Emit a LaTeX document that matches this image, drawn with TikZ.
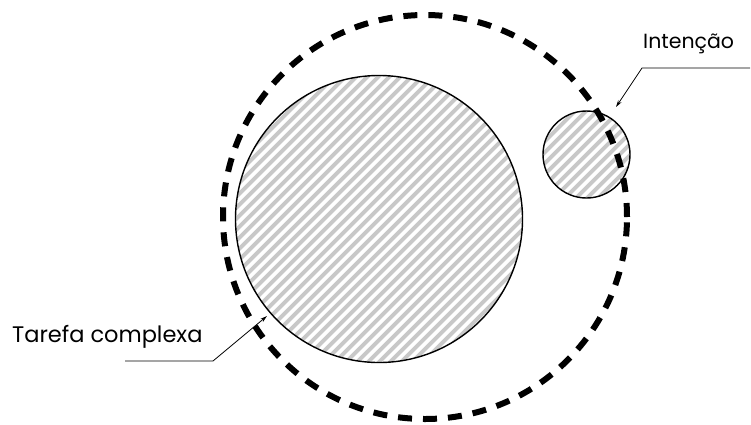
\documentclass[tikz,border=0pt]{standalone}
\usepackage{fontspec}
\setmainfont{Poppins}
\usetikzlibrary{arrows.meta}
\definecolor{hatchgray}{RGB}{200,200,200}

\begin{document}
\begin{tikzpicture}[x=1pt,y=-1pt,
    ring/.style={circle,draw,line width=1.4pt,inner sep=0pt,hatched},
    hatched/.style={path picture={
        \foreach \k in {-22,...,22}
          \draw[hatchgray,line width=3.9pt] ([xshift=\k*11pt]path picture bounding box.center) ++(-300,300) -- ++(600,-600);
      }},
    bound/.style={circle,draw,line width=6pt,dash pattern=on 14pt off 11pt,inner sep=0pt},
    lbl/.style={inner sep=0pt},
    lead/.style={line width=0.8pt,-{Stealth[length=7pt,width=4pt]}},
]
\useasboundingbox (0,0) rectangle (751,424);

% circles
\node[ring,minimum size=287pt] (task) at (379,219) {};
\node[ring,minimum size=87pt] (intent) at (586.5,154.5) {};
\node[bound,minimum size=404pt] (scope) at (425,217) {};

% labels
\node[lbl,font=\fontsize{20.5}{24}\selectfont,anchor=base west] (intent label) at (643,48) {Intenção};
\node[lbl,font=\fontsize{22.5}{26}\selectfont,anchor=base west] (task label) at (12,342) {Tarefa complexa};

% leaders
\coordinate (intent end) at (750,68);
\coordinate (intent bend) at (642,68);
\coordinate (intent tip) at (616,107);
\coordinate (task end) at (125,361);
\coordinate (task bend) at (213,361);
\coordinate (task tip) at (267,316);
\draw[lead] (intent end) -- (intent bend) -- (intent tip);
\draw[lead] (task end) -- (task bend) -- (task tip);
\end{tikzpicture}
\end{document}
